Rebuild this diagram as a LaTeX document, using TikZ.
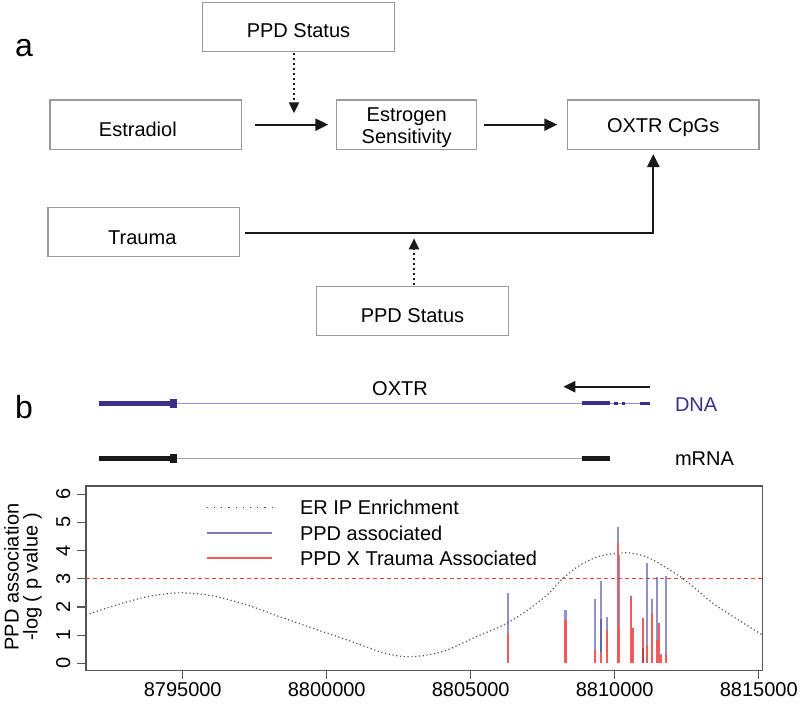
\documentclass[tikz,border=0pt]{standalone}
\usepackage{fontspec}
\setmainfont{Liberation Sans}
\usetikzlibrary{arrows.meta}
\definecolor{boxgray}{HTML}{9A9A9A}
\definecolor{dnapurple}{HTML}{3F2D8C}
\definecolor{dnathin}{HTML}{9A88D0}
\definecolor{barblue}{HTML}{4848A8}
\definecolor{legblue}{HTML}{7A7AC0}
\definecolor{barred}{HTML}{F05A5A}
\definecolor{curvegray}{HTML}{555555}
\definecolor{thresh}{HTML}{E84444}
\definecolor{axisgray}{HTML}{555555}
\begin{document}
\begin{tikzpicture}[x=1pt,y=-1pt,
  every node/.style={inner sep=0pt, outer sep=0pt},
  txt/.style={font=\fontsize{20}{22}\selectfont},
  big/.style={font=\fontsize{32}{36}\selectfont},
  flowbox/.style={draw=boxgray, line width=1.2pt, minimum width=191.7pt, minimum height=49.3pt, txt, text depth=0pt},
  arr/.style={line width=2.3pt, draw=black!90, line join=miter, -{Triangle[length=13pt,width=12pt]}},
  dotarr/.style={line width=2.2pt, draw=black!90, dash pattern=on 2pt off 3pt, -{Triangle[length=11pt,width=10pt]}},
  axisline/.style={draw=axisgray, line width=1.2pt},
 ]
\useasboundingbox (0,0) rectangle (800,717);

% ---------- panel a ----------
\node[big, anchor=base west] (lbla) at (15,56.7) {a};
\node[flowbox, text height=21.3pt] (ppd1) at (298.5,27.2) {PPD Status};
\node[flowbox, text height=23.3pt] (estr) at (145.85,124.65) {Estradiol\kern16pt};
\node[flowbox, minimum width=140pt] (es) at (406.7,124.65) {};
\node[txt, align=center] (estxt) at (406.7,128.1) {Estrogen\\Sensitivity};
\node[flowbox, text height=15pt] (oxtr) at (663.15,124.65) {OXTR CpGs};
\node[flowbox, text height=25pt] (trauma) at (143.8,231.8) {Trauma\kern3pt};
\node[flowbox, text height=22.3pt] (ppd2) at (412.5,310.85) {PPD Status};

\coordinate (t1) at (294,113.3);
\coordinate (t2) at (414,238.3);
\draw[arr] ([xshift=13.3pt]estr.east) -- ([xshift=-8.4pt]es.west);
\draw[arr] ([xshift=7.3pt]es.east) -- ([xshift=-10pt]oxtr.west);
\draw[arr] ([xshift=5.7pt,yshift=-0.9pt]trauma.east) -| ([xshift=-9.85pt,yshift=-4.7pt]oxtr.south);
\draw[dotarr] ([xshift=-4.5pt,yshift=-1.6pt]ppd1.south) -- (t1);
\draw[dotarr] ([xshift=1.5pt,yshift=1pt]ppd2.north) -- (t2);

% ---------- panel b : gene track ----------
\node[big, anchor=base west] (lblb) at (15,418) {b};
\node[txt, anchor=base] (oxtrlbl) at (400,395) {OXTR};
\coordinate (arrS) at (650,386.7);
\coordinate (arrE) at (563.3,386.7);
\draw[line width=2.2pt, draw=black!90, -{Triangle[length=12pt,width=11pt]}] (arrS) -- (arrE);
\node[txt, anchor=base west, text=dnapurple] (dnalbl) at (675,411.7) {DNA};
\node[txt, anchor=base west] (mrnalbl) at (675,465.5) {mRNA};

\draw[dnathin, line width=1.2pt] (177,403.3) -- (650,403.3);
\draw[dnapurple, line width=4.7pt] (99,403.3) -- (170,403.3);
\fill[dnapurple] (170,399) rectangle (177.3,407.6);
\draw[dnapurple, line width=4.3pt] (581.7,403.3) -- (610,403.3);
\fill[dnapurple] (614,402) rectangle (618,404.6);
\fill[dnapurple] (621.7,401.6) rectangle (625,405);
\fill[dnapurple] (640,401.6) rectangle (650,405);

\draw[gray!70, line width=1.2pt] (177,458.3) -- (582,458.3);
\draw[black!90, line width=4.7pt] (99,458.3) -- (170,458.3);
\fill[black!90] (170,454) rectangle (177.3,462.6);
\draw[black!90, line width=4.5pt] (581.7,458.3) -- (610,458.3);

% ---------- panel b : plot ----------
\draw[axisline] (86,486) rectangle (762.7,670.7);
\foreach \v in {0,...,6} {
  \pgfmathsetmacro\yy{663.3-28.2*\v}
  \draw[axisline] (77,\yy) -- (86,\yy);
  \node[txt, rotate=90, anchor=base] (yt\v) at (70,\yy) {\v};
}
\foreach \lab [count=\i from 0] in {8795000,8800000,8805000,8810000,8815000} {
  \pgfmathsetmacro\xx{182.7+144*\i}
  \draw[axisline] (\xx,670.7) -- (\xx,679.3);
  \node[txt, anchor=base] (xt\i) at (\xx,696) {\lab};
}
\node[txt, rotate=90, anchor=base] (ytitle1) at (18.5,577) {PPD association};
\node[txt, rotate=90, anchor=base] (ytitle2) at (37.5,577) {-log ( p value )};

\draw[thresh, line width=1.1pt, dash pattern=on 4pt off 3pt] (86,578.7) -- (762.7,578.7);

\begin{scope}[shift={(0,663.3)}, yscale=-28.2]
  \draw[curvegray, line width=1.2pt, dash pattern=on 1.2pt off 2.6pt] plot[smooth] coordinates {
    (86,1.71) (113,2.03) (147,2.36) (180,2.5) (213,2.39) (247,2.07) (280,1.65)
    (313,1.24) (347,0.83) (380,0.41) (403,0.24) (425,0.28) (447,0.47) (480,1.0)
    (497,1.25) (513,1.55) (530,1.95) (548,2.45) (562,2.98) (580,3.48) (600,3.8)
    (627,3.92) (650,3.72) (683,3.0) (713,2.13) (740,1.5) (762.7,1.0)};
  \foreach \x/\b in {508.3/2.48, 565.5/1.89, 595.0/2.28, 601.3/2.93, 601.3/1.56, 606.7/1.64,
                     617.7/4.82, 619.3/3.84, 646.7/3.55, 652.0/2.28, 656.7/3.05, 661.0/0.33, 665.7/3.10}
    { \fill[barblue, opacity=0.6] (\x-1.1,0) rectangle (\x+1.1,\b); }
  \foreach \x/\r in {508.3/1.06, 565.5/1.55, 595.0/0.47, 601.3/0.41, 606.7/1.18, 617.7/4.26,
                     619.3/1.30, 630.7/2.39, 632.7/1.24, 642.7/1.60, 646.7/0.65, 652.0/1.77,
                     656.7/0.83, 659.0/1.44, 661.0/0.25, 665.7/0.35}
    { \fill[barred] (\x-1.1,0) rectangle (\x+1.1,\r); }
  \fill[barred!75!black] (641.6,0) rectangle (643.8,0.53);
\end{scope}

% legend
\draw[curvegray, line width=1.2pt, dash pattern=on 1.2pt off 6pt] (206.7,507.3) -- (271.7,507.3);
\draw[legblue, line width=1.8pt] (206.7,533.3) -- (271.7,533.3);
\draw[barred, line width=1.8pt] (206.7,558.3) -- (271.7,558.3);
\node[txt, anchor=base west] (leg1) at (300,514.5) {ER IP Enrichment};
\node[txt, anchor=base west] (leg2) at (300,540.5) {PPD associated};
\node[txt, anchor=base west] (leg3) at (300,565.5) {PPD X Trauma Associated};
\end{tikzpicture}
\end{document}
